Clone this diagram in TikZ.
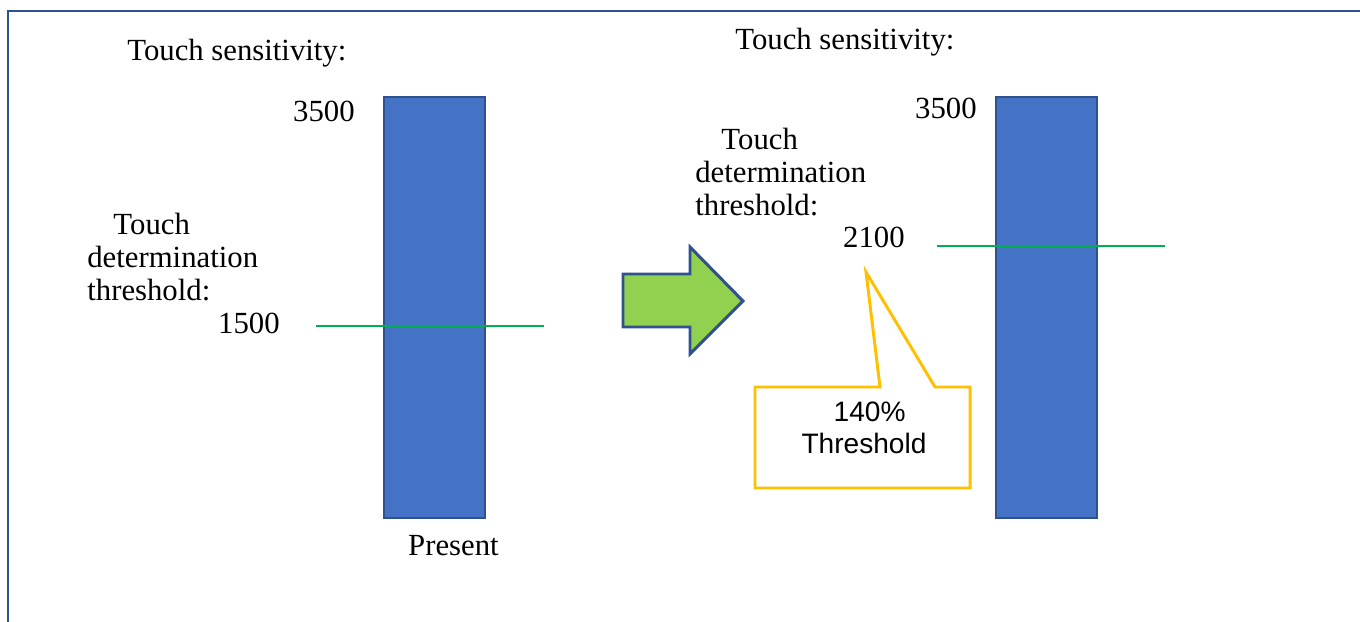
\documentclass[tikz,border=0pt]{standalone}
\usepackage{fontspec}
\setmainfont{Liberation Serif}
\newfontfamily\calloutfont{Liberation Sans}

\definecolor{barblue}{HTML}{4472C4}
\definecolor{edgeblue}{HTML}{2F528F}
\definecolor{arrowgreen}{HTML}{92D050}
\definecolor{linegreen}{HTML}{00B050}
\definecolor{calloutyellow}{HTML}{FFC000}

\tikzset{
  valtext/.style={font=\fontsize{17.5}{18.7}\selectfont, inner sep=0pt},
  bar/.style={draw=edgeblue, fill=barblue, line width=1.4pt,
    minimum width=2.02cm, minimum height=8.42cm, inner sep=0pt},
  threshline/.style={draw=linegreen, line width=0.8pt},
}

\begin{document}
\begin{tikzpicture}[x=0.02cm, y=-0.02cm]
  \useasboundingbox (0,0) rectangle (1360,622);
  % frame
  \draw[edgeblue, line width=1.1pt] (8,622) -- (8,11) -- (1360,11);

  % present setting
  \node[valtext, anchor=base west] (senseL) at (127,60) {Touch sensitivity:};
  \node[bar] (barL) at (434.5,307.5) {};
  \node[valtext, anchor=base east] (maxL) at (355,121) {3500};
  \node[valtext, anchor=north west, align=left] (thrL) at (87,213)
    {\hspace*{0.85em}Touch\\determination\\threshold:};
  \node[valtext, anchor=base east] (valL) at (280,333) {1500};
  \coordinate (lineLa) at (316,326);
  \coordinate (lineLb) at (544,326);
  \draw[threshline] (lineLa) -- (lineLb);
  \node[valtext, anchor=base] (now) at (453.5,555) {Present};

  % change arrow
  \draw[edgeblue, fill=arrowgreen, line width=1.7pt, line join=miter]
    (623,274) -- (690,274) -- (690,247) -- (743,301) -- (690,354)
    -- (690,327) -- (623,327) -- cycle;

  % new setting
  \node[valtext, anchor=base west] (senseR) at (735,50) {Touch sensitivity:};
  \node[bar] (barR) at (1046.5,307.5) {};
  \node[valtext, anchor=base east] (maxR) at (977,118) {3500};
  \node[valtext, anchor=north west, align=left] (thrR) at (695,128)
    {\hspace*{0.85em}Touch\\determination\\threshold:};
  \node[valtext, anchor=base east] (valR) at (905,247) {2100};
  \coordinate (lineRa) at (937,246);
  \coordinate (lineRb) at (1165,246);
  \draw[threshline] (lineRa) -- (lineRb);

  % callout
  \coordinate (tip) at (866,272);
  \draw[calloutyellow, fill=white, line width=1.7pt, line join=miter]
    (755,387) -- (880,387) -- (tip) -- (935,387) -- (970,387)
    -- (970,488) -- (755,488) -- cycle;
  \node[font=\calloutfont\fontsize{16}{18}\selectfont, inner sep=0pt,
    align=center, anchor=north] (ratio) at (864,402) {\hspace*{0.4em}140\%\\Threshold};
\end{tikzpicture}
\end{document}
